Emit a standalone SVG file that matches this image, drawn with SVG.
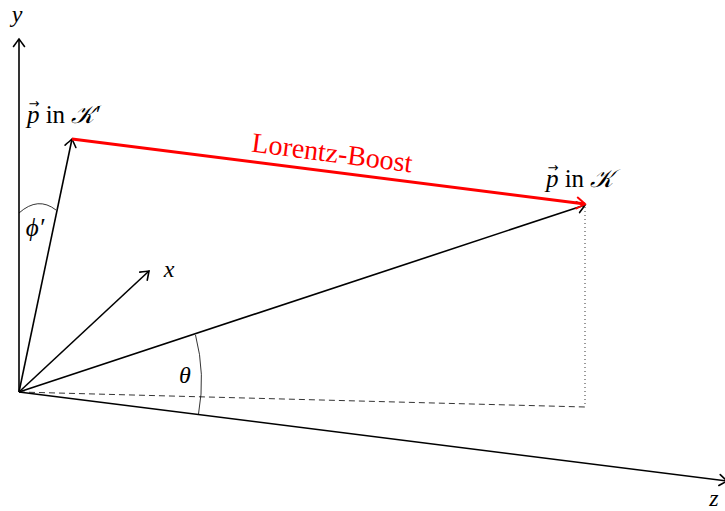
<svg xmlns="http://www.w3.org/2000/svg" width="725" height="511" viewBox="0 0 725 511">
<style>
.ax{stroke:#000;stroke-width:1.6;fill:none}
.t{font-family:"Liberation Serif","Times New Roman",serif;fill:#000}
.i{font-style:italic}
.v{font-family:"DejaVu Sans",sans-serif;font-size:13px;font-style:normal}
</style>
<defs>
<marker id="ah" markerUnits="userSpaceOnUse" markerWidth="16" markerHeight="16" viewBox="-12 -8 16 16" refX="0" refY="0" orient="auto">
<path d="M-7.5,-5.5 Q-2,-1.5 0,0 Q-2,1.5 -7.5,5.5" fill="none" stroke="#000" stroke-width="1.6" stroke-linecap="round"/>
</marker>
<marker id="ahr" markerUnits="userSpaceOnUse" markerWidth="16" markerHeight="16" viewBox="-12 -8 16 16" refX="0" refY="0" orient="auto">
<path d="M-8,-5.5 Q-2,-1.5 0,0 Q-2,1.5 -8,5.5" fill="none" stroke="#f00" stroke-width="2" stroke-linecap="round"/>
</marker>
</defs>
<g id="connectors">
<line class="ax" x1="19" y1="392" x2="19" y2="39" marker-end="url(#ah)"/>
<line class="ax" x1="19" y1="392" x2="727" y2="481" marker-end="url(#ah)"/>
<line class="ax" x1="19" y1="392" x2="149" y2="271" marker-end="url(#ah)"/>
<line class="ax" x1="19" y1="392" x2="72" y2="139" marker-end="url(#ah)"/>
<line class="ax" x1="19" y1="392" x2="585" y2="205" marker-end="url(#ah)"/>
<line x1="19" y1="392" x2="585" y2="407" stroke="#000" stroke-width="0.8" stroke-dasharray="6,4"/>
<line x1="585" y1="207" x2="585" y2="407" stroke="#000" stroke-width="0.8" stroke-dasharray="1,3"/>
<line x1="72" y1="139" x2="585" y2="204" stroke="#f00" stroke-width="3" marker-end="url(#ahr)"/>
<path d="M195.5,335 A183,183 0 0 1 198.5,414" fill="none" stroke="#000" stroke-width="0.8"/>
<path d="M19,213 Q38,196 56,210" fill="none" stroke="#000" stroke-width="0.8"/>
</g>
<g id="labels">
<text class="t i" x="17" y="22" font-size="24" text-anchor="middle">y</text>
<text class="t i" x="169" y="277" font-size="24" text-anchor="middle">x</text>
<text class="t i" x="714" y="506" font-size="24" text-anchor="middle">z</text>
<text class="t i" x="185" y="383" font-size="24" text-anchor="middle">θ</text>
<text class="t i" x="35" y="236" font-size="25" text-anchor="middle">ϕ′</text>
<text class="t" x="27" y="123" font-size="25"><tspan class="i">p</tspan><tspan class="v" dx="-11" dy="-15">→</tspan><tspan dy="15"> in </tspan><tspan class="i">𝒦′</tspan></text>
<text class="t" x="546" y="187" font-size="25"><tspan class="i">p</tspan><tspan class="v" dx="-11" dy="-15">→</tspan><tspan dy="15"> in </tspan><tspan class="i">𝒦</tspan></text>
<text class="t" x="331" y="162" font-size="28" style="fill:#f00" text-anchor="middle" transform="rotate(7.4 331 162)">Lorentz-Boost</text>
</g>
</svg>
